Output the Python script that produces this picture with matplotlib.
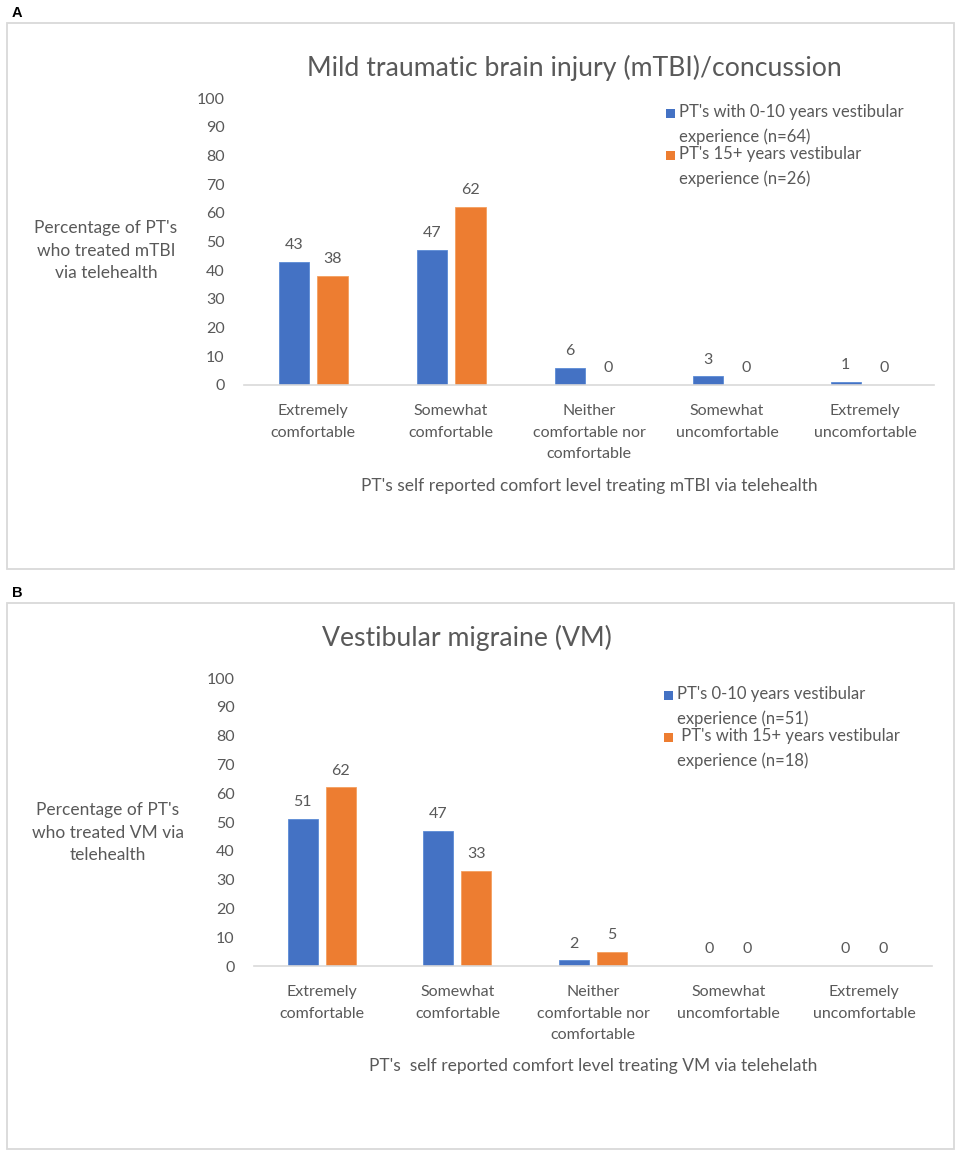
import matplotlib
matplotlib.use("Agg")
import matplotlib.pyplot as plt
from matplotlib.patches import Rectangle
import numpy as np

categories = ["Extremely\ncomfortable", "Somewhat\ncomfortable",
              "Neither\ncomfortable nor\ncomfortable", "Somewhat\nuncomfortable",
              "Extremely\nuncomfortable"]
a_low = [43, 47, 6, 3, 1]
a_high = [38, 62, 0, 0, 0]
b_low = [51, 47, 2, 0, 0]
b_high = [62, 33, 5, 0, 0]
yticks = [0, 10, 20, 30, 40, 50, 60, 70, 80, 90, 100]

a_title = "Mild traumatic brain injury (mTBI)/concussion"
b_title = "Vestibular migraine (VM)"
a_ylabel = "Percentage of PT's\nwho treated mTBI\nvia telehealth"
b_ylabel = "Percentage of PT's\nwho treated VM via\ntelehealth"
a_xlabel = "PT's self reported comfort level treating mTBI via telehealth"
b_xlabel = "PT's  self reported comfort level treating VM via telehelath"
a_leg = ["PT's with 0-10 years vestibular\nexperience (n=64)",
         "PT's 15+ years vestibular\nexperience (n=26)"]
b_leg = ["PT's 0-10 years vestibular\nexperience (n=51)",
         " PT's with 15+ years vestibular\nexperience (n=18)"]

BLUE = "#4472C4"
ORANGE = "#ED7D31"
GRAY = "#595959"
FONT = ["Lato", "DejaVu Sans"]
plt.rcParams['font.family'] = FONT

W, H = 957, 1152
fig = plt.figure(figsize=(W / 100, H / 100), dpi=100)


def fx(x):
    return x / W


def fy(y):
    return 1 - y / H


def box(x0, y0, x1, y1):
    fig.patches.append(Rectangle((fx(x0), fy(y1)), fx(x1) - fx(x0), fy(y0) - fy(y1),
                                 transform=fig.transFigure, fill=False,
                                 edgecolor="#D9D9D9", linewidth=1.3))


def panel(ax_rect, low, high, title, title_xy, ylabel, ylabel_xy, xlabel, xlabel_y,
          leg, leg_xy):
    l, r, t, b = ax_rect
    ax = fig.add_axes([fx(l), fy(b), fx(r) - fx(l), fy(t) - fy(b)])
    x = np.arange(len(categories))
    w = 0.22
    g = 0.03
    b1 = ax.bar(x - w / 2 - g, low, w, color=BLUE, edgecolor="#5B8BD6", linewidth=0.6)
    b2 = ax.bar(x + w / 2 + g, high, w, color=ORANGE, edgecolor="#F4A060", linewidth=0.6)
    for bars, vals in ((b1, low), (b2, high)):
        for rect, v in zip(bars, vals):
            ax.annotate(str(v), (rect.get_x() + rect.get_width() / 2, v),
                        xytext=(0, 7), textcoords="offset points", ha="center",
                        va="bottom", fontsize=11.5, color=GRAY)
    ax.set_xlim(-0.5, len(categories) - 0.5)
    ax.set_ylim(0, 100)
    ax.set_yticks(yticks)
    ax.set_xticks(x)
    ax.set_xticklabels(categories, fontsize=11.5, color=GRAY, linespacing=1.65)
    ax.tick_params(axis="y", length=0, labelsize=11.5, labelcolor=GRAY, pad=14)
    ax.tick_params(axis="x", length=0, pad=14)
    for s in ("top", "right", "left"):
        ax.spines[s].set_visible(False)
    ax.spines["bottom"].set_color("#D9D9D9")
    ax.spines["bottom"].set_linewidth(1.2)
    fig.text(fx(title_xy[0]), fy(title_xy[1]), title, ha="center", va="center",
             fontsize=19.2, color=GRAY)
    fig.text(fx(ylabel_xy[0]), fy(ylabel_xy[1]), ylabel, ha="center", va="center",
             fontsize=12.5, color=GRAY, linespacing=1.5)
    fig.text(fx((l + r) / 2), fy(xlabel_y), xlabel, ha="center", va="center",
             fontsize=12.5, color=GRAY)
    lx, ly = leg_xy
    for i, (lab, col) in enumerate(zip(leg, (BLUE, ORANGE))):
        yy = ly + i * 42
        fig.patches.append(Rectangle((fx(lx), fy(yy + 4.5)), fx(9), 9 / H,
                                     transform=fig.transFigure, facecolor=col,
                                     edgecolor="none"))
        fig.text(fx(lx + 13), fy(yy - 9), lab, ha="left", va="top", fontsize=12,
                 color=GRAY, linespacing=1.65)
    return ax


fig.text(fx(12), fy(6), "A", ha="left", va="top", fontsize=10.5, fontweight="bold",
         family="Liberation Sans", color="black")
fig.text(fx(12), fy(586), "B", ha="left", va="top", fontsize=10.5, fontweight="bold",
         family="Liberation Sans", color="black")
box(7, 23, 954, 569)
box(7, 603, 954, 1149)

panel((244, 934, 98, 385), a_low, a_high, a_title, (574, 68), a_ylabel, (106, 251),
      a_xlabel, 486, a_leg, (666, 113))
panel((254, 932, 678, 966), b_low, b_high, b_title, (467, 638), b_ylabel, (108, 833),
      b_xlabel, 1066, b_leg, (664, 695))

fig.savefig("out.png", dpi=100)
